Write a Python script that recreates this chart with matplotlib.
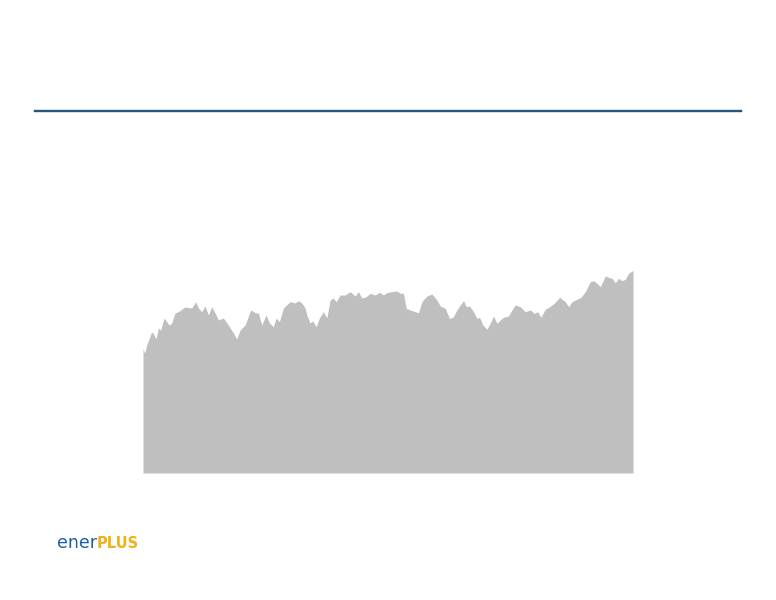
import matplotlib
matplotlib.use("Agg")
import matplotlib.pyplot as plt

# Time index (trading-day position) and price level
day = [
    0, 1.7, 3.7, 8.7, 11, 13, 15.3, 17.7, 21, 23.7,
    26.3, 28.7, 32, 35.3, 42, 48.7, 52.7, 55.3, 58.7, 62,
    65.3, 68.7, 72, 75.3, 80.3, 85.3, 90.3, 93.7, 97, 102,
    107.7, 112, 115.3, 118.7, 123, 126.3, 130.3, 133, 136.3, 140.3,
    147, 152, 155.3, 158.7, 162, 163.7, 167, 169.7, 173, 176.3,
    180.3, 183.7, 187, 190.3, 193, 197, 202, 207, 212, 215.3,
    218.7, 223, 227, 232, 236.3, 240.3, 244.3, 248.7, 253.7, 257,
    260.3, 263, 267, 272, 275.3, 278.7, 283.7, 288.7, 293.7, 297,
    302, 306.3, 309.7, 313.7, 317, 320.3, 323, 326.3, 330.3, 333.7,
    336.3, 339.7, 343.7, 347, 350.3, 353.7, 357, 360.3, 365.3, 368.7,
    372, 377, 382, 387, 391, 394.3, 397.7, 402, 406.3, 411,
    416.3, 422, 425.3, 428.7, 433.7, 437.7, 442, 447, 450.3, 453.7,
    457, 458.7, 462, 465.3, 468.7, 472, 475.3, 478.7, 482, 485.3,
    488.7, 489.7,
]
price = [
    124, 120, 128, 141.3, 138, 134, 145, 143, 155, 151.3,
    148, 150, 160, 161.3, 166, 165, 171.3, 165, 161.3, 167,
    158, 166.3, 160, 153, 155, 148, 140, 134, 143, 148,
    163, 160.3, 160, 148, 158, 150, 146.3, 155, 151.3, 165,
    171.3, 170, 172.3, 170, 165, 158, 150, 152, 146.3, 155,
    161.3, 155, 173, 175, 171.3, 178, 178, 181.3, 177, 181.3,
    175, 176.3, 179.7, 178, 180.7, 178, 180.7, 181.3, 182, 179.7,
    179.7, 164.7, 163, 161.3, 160.3, 171.3, 177, 179, 173, 167,
    164.7, 154.7, 155.7, 163, 168, 172.3, 166.3, 167, 161.3, 154.7,
    155.7, 148, 143.7, 149.7, 157, 149.7, 153, 155.7, 157, 163,
    168, 166.3, 161.3, 163, 159.7, 161.3, 155.7, 163.7, 166.3, 169.7,
    175.7, 171.3, 166.3, 171.3, 173.7, 175.7, 181.3, 191.3, 192.3, 189.7,
    186.3, 189.7, 197, 195.7, 194.7, 190.3, 194.7, 192.3, 193.7, 199.7,
    202, 202.3,
]

W, H = 776, 600
fig = plt.figure(figsize=(W / 100, H / 100), dpi=100)
fig.patch.set_facecolor("white")

# Title rule
fig.add_artist(plt.Line2D([35 / W, 741 / W], [1 - 111 / H, 1 - 111 / H],
                          color="#24577f", lw=1.7, transform=fig.transFigure))

# Area chart
left, right, bottom, top = 143, 633, 473, 260
ax = fig.add_axes([left / W, 1 - bottom / H, (right - left) / W, (bottom - top) / H])
ax.fill_between(day, price, 0, color="#bfbfbf", lw=0)
ax.set_xlim(0, 489.7)
ax.set_ylim(0, bottom - top)
ax.axis("off")

# Logo
fig.text(57 / W, 1 - 548 / H, "ener", color="#1b5fa7", fontsize=12.5,
         family="DejaVu Sans", va="baseline", ha="left")
fig.text(97 / W, 1 - 548 / H, "PLUS", color="#f0b21c", fontsize=10.5,
         family="DejaVu Sans", weight="bold", va="baseline", ha="left")

fig.savefig("out.png", dpi=100, facecolor="white")
